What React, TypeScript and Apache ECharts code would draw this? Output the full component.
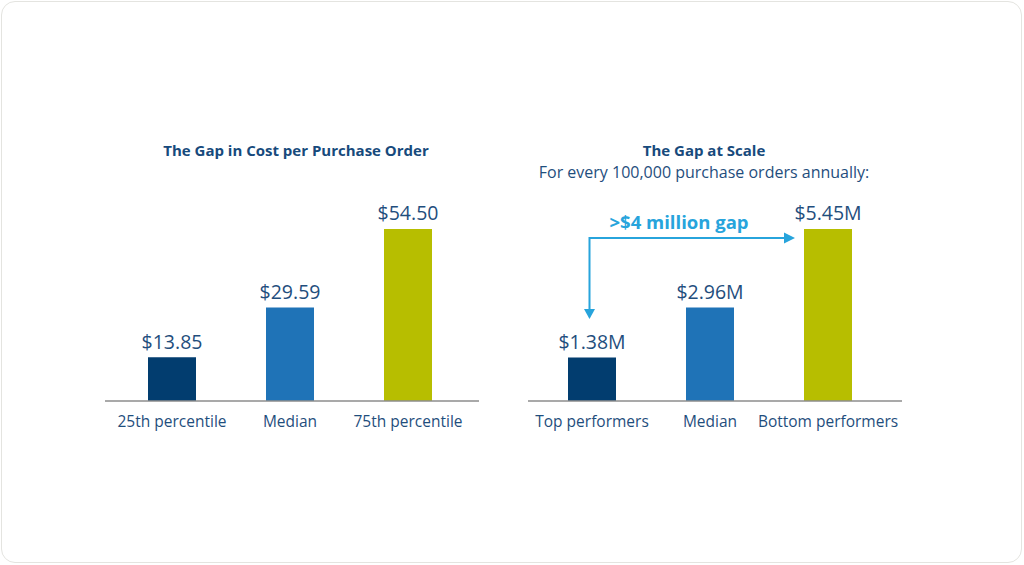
import React, { useEffect, useRef } from "react";
import * as echarts from "echarts";

// Cost per purchase order by benchmark position
const costCategories = ["25th percentile", "Median", "75th percentile"];
const costValues = [13.85, 29.59, 54.5];

// Annual cost for every 100,000 purchase orders (in $M)
const scaleCategories = ["Top performers", "Median", "Bottom performers"];
const scaleValues = [1.38, 2.96, 5.45];

const barColors = ["#023d6f", "#1f73b7", "#b7be00"];
const gapLabel = ">$4 million gap";

const FONT = "'Open Sans', 'Noto Sans', sans-serif";
const TEXT = "#1f4e7d";
const ACCENT = "#27a4dc";

export default function App() {
  const ref = useRef<HTMLDivElement>(null);

  useEffect(() => {
    document.body.style.margin = "0";
    const chart = echarts.init(ref.current!, null, { renderer: "svg" });

    const axisCommon = {
      type: "category" as const,
      axisLine: { show: false },
      axisTick: { show: false },
      axisLabel: {
        color: TEXT,
        fontSize: 15.5,
        fontFamily: FONT,
        margin: 12,
        interval: 0,
        hideOverlap: false,
      },
    };
    const yCommon = {
      type: "value" as const,
      min: 0,
      show: false,
      splitLine: { show: false },
    };
    const labelCommon = {
      show: true,
      position: "top" as const,
      distance: 6,
      color: TEXT,
      fontSize: 19.5,
      fontFamily: FONT,
    };
    const titleStyle = { color: "#174a7c", fontSize: 15, fontWeight: "bold" as const, fontFamily: FONT };

    chart.setOption({
      animation: false,
      backgroundColor: "transparent",
      title: [
        {
          text: "The Gap in Cost per Purchase Order",
          left: 291,
          top: 137,
          textAlign: "center",
          textStyle: titleStyle,
        },
        {
          text: "The Gap at Scale",
          subtext: "For every 100,000 purchase orders annually:",
          left: 699,
          top: 137,
          textAlign: "center",
          itemGap: 7,
          textStyle: titleStyle,
          subtextStyle: { color: TEXT, fontSize: 16, fontFamily: FONT },
        },
      ],
      grid: [
        { left: 113, width: 354, top: 180, bottom: 164 },
        { left: 533, width: 354, top: 180, bottom: 164 },
      ],
      xAxis: [
        { ...axisCommon, gridIndex: 0, data: costCategories },
        { ...axisCommon, gridIndex: 1, data: scaleCategories },
      ],
      yAxis: [
        { ...yCommon, gridIndex: 0, max: 70 },
        { ...yCommon, gridIndex: 1, max: 7 },
      ],
      series: [
        {
          type: "bar",
          xAxisIndex: 0,
          yAxisIndex: 0,
          barWidth: 48,
          data: costValues.map((v, i) => ({ value: v, itemStyle: { color: barColors[i] } })),
          label: { ...labelCommon, formatter: (p: any) => "$" + p.value.toFixed(2) },
        },
        {
          type: "bar",
          xAxisIndex: 1,
          yAxisIndex: 1,
          barWidth: 48,
          data: scaleValues.map((v, i) => ({ value: v, itemStyle: { color: barColors[i] } })),
          label: { ...labelCommon, formatter: (p: any) => "$" + p.value.toFixed(2) + "M" },
        },
      ],
      graphic: [
        // baselines under each bar group
        { type: "line", shape: { x1: 105, y1: 401, x2: 479, y2: 401 }, style: { stroke: "#8c8c8c", lineWidth: 1.5 }, z: 10 },
        { type: "line", shape: { x1: 528, y1: 401, x2: 902, y2: 401 }, style: { stroke: "#8c8c8c", lineWidth: 1.5 }, z: 10 },
        // gap arrow between top and bottom performers
        {
          type: "polyline",
          shape: { points: [[589.5, 311], [589.5, 238], [786, 238]] },
          style: { stroke: ACCENT, lineWidth: 2, fill: null },
        },
        {
          type: "polygon",
          shape: { points: [[584, 309], [595, 309], [589.5, 319]] },
          style: { fill: ACCENT },
        },
        {
          type: "polygon",
          shape: { points: [[784, 232.5], [784, 243.5], [795, 238]] },
          style: { fill: ACCENT },
        },
        {
          type: "text",
          x: 679,
          y: 221,
          style: {
            text: gapLabel,
            fill: ACCENT,
            fontSize: 18.5,
            fontWeight: "bold",
            fontFamily: FONT,
            align: "center",
            verticalAlign: "middle",
          },
        },
      ],
    });

    return () => chart.dispose();
  }, []);

  return (
    <div style={{ position: "relative", width: 1024, height: 565, background: "#ffffff" }}>
      <div
        style={{
          position: "absolute",
          left: 1,
          top: 1,
          width: 1019,
          height: 560,
          border: "1.5px solid #e4e4e0",
          borderRadius: 14,
          boxSizing: "content-box",
        }}
      />
      <div ref={ref} style={{ position: "absolute", left: 0, top: 0, width: 1024, height: 565 }} />
    </div>
  );
}
